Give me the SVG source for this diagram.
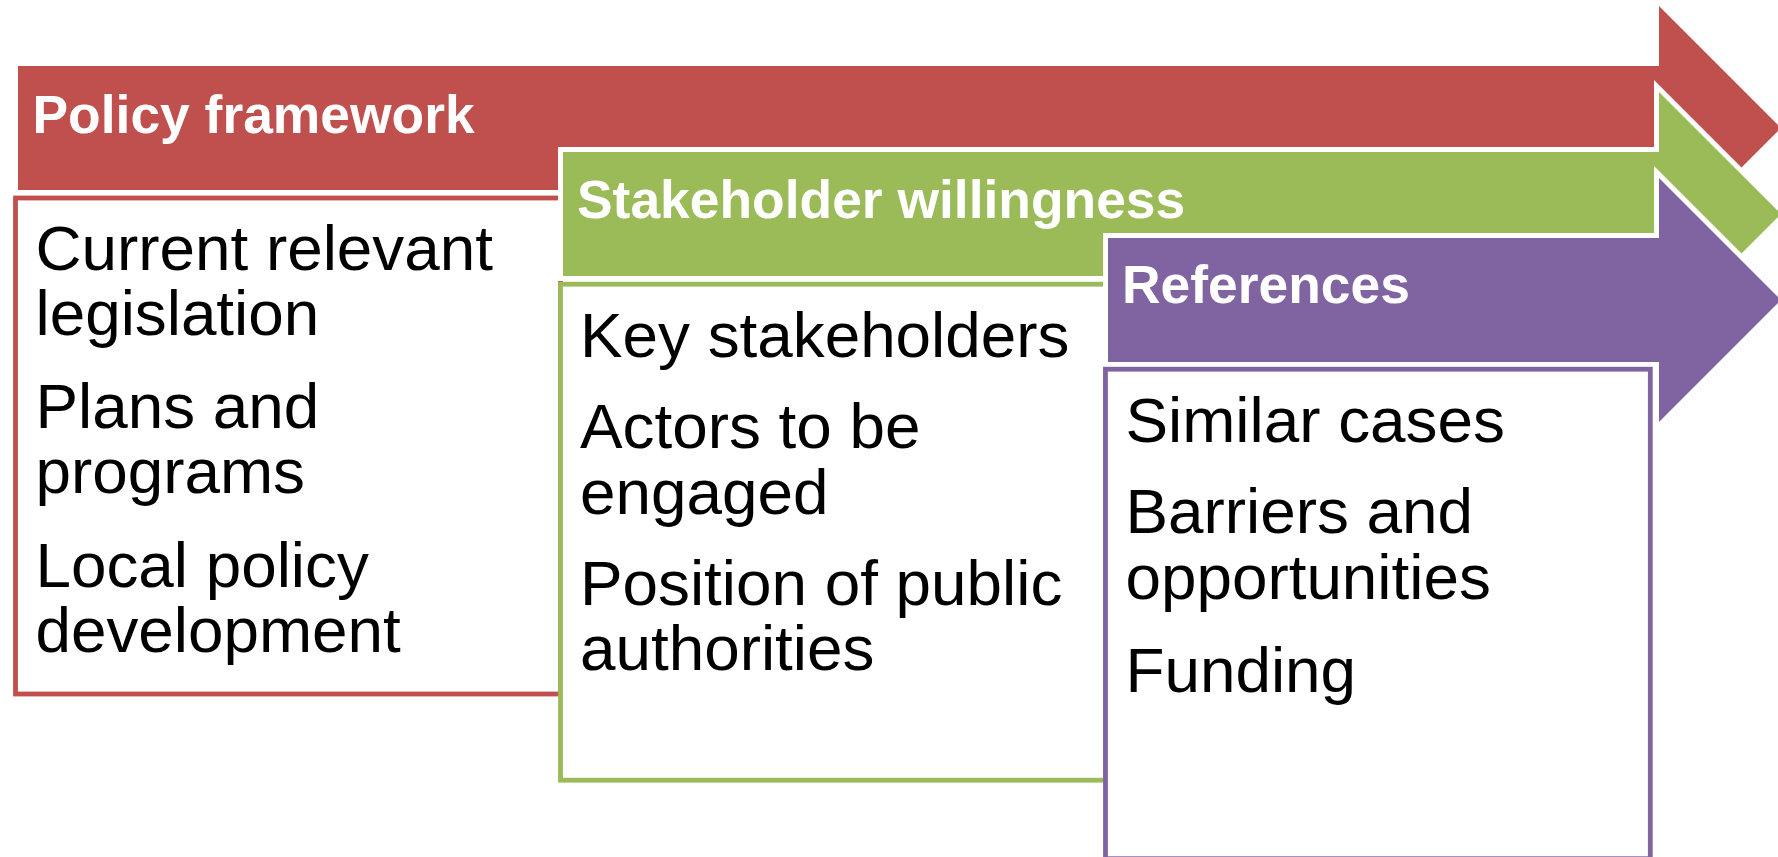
<svg xmlns="http://www.w3.org/2000/svg" width="1778" height="857" viewBox="0 0 1778 857">
  <style>
    .arrow { stroke: #FFFFFF; stroke-width: 10; stroke-linejoin: miter; paint-order: stroke fill; }
    .box { fill: #FFFFFF; stroke-width: 4.8; }
    .title { font-family: "Liberation Sans", Arial, sans-serif; font-weight: bold; font-size: 53.4px; fill: #FFFFFF; }
    .item { font-family: "Liberation Sans", Arial, sans-serif; font-size: 63.8px; fill: #000000; }
    .red { fill: #C0504D; }
    .green { fill: #9BBB59; }
    .purple { fill: #8064A2; }
    .box.red { stroke: #C0504D; fill: #FFFFFF; }
    .box.green { stroke: #9BBB59; fill: #FFFFFF; }
    .box.purple { stroke: #8064A2; fill: #FFFFFF; }
  </style>

  <rect width="1778" height="857" fill="#FFFFFF"/>

  <!-- Stage 1: policy framework -->
  <g id="policy-framework">
    <polygon class="arrow red" points="18,66 1659,66 1659,6 1781,128 1659,250 1659,190 18,190"/>
    <text class="title" x="32.5" y="132.7">Policy framework</text>
    <rect class="box red" x="15.5" y="198" width="545" height="496"/>
    <text class="item" x="35.5" y="270">Current relevant</text>
    <text class="item" x="35.5" y="335.3">legislation</text>
    <text class="item" x="35.5" y="428">Plans and</text>
    <text class="item" x="35.5" y="493.3">programs</text>
    <text class="item" x="35.5" y="586.7">Local policy</text>
    <text class="item" x="35.5" y="652">development</text>
  </g>

  <!-- Stage 2: stakeholder willingness -->
  <g id="stakeholder-willingness">
    <polygon class="arrow green" points="563,152 1659,152 1659,92 1781,214 1659,336 1659,276 563,276"/>
    <text class="title" x="577" y="218.3">Stakeholder willingness</text>
    <rect class="box green" x="560.5" y="284.2" width="545" height="496"/>
    <text class="item" x="580" y="356.7">Key stakeholders</text>
    <text class="item" x="580" y="448.3">Actors to be</text>
    <text class="item" x="580" y="513.5">engaged</text>
    <text class="item" x="580" y="605">Position of public</text>
    <text class="item" x="580" y="670.2">authorities</text>
  </g>

  <!-- Stage 3: references -->
  <g id="references">
    <polygon class="arrow purple" points="1108,238 1659,238 1659,178 1781,300 1659,422 1659,362 1108,362"/>
    <text class="title" x="1122" y="303.3">References</text>
    <rect class="box purple" x="1105.5" y="369.2" width="544.8" height="489.5"/>
    <text class="item" x="1125.5" y="441.7">Similar cases</text>
    <text class="item" x="1125.5" y="533.3">Barriers and</text>
    <text class="item" x="1125.5" y="598.8">opportunities</text>
    <text class="item" x="1125.5" y="691.7">Funding</text>
  </g>
</svg>
